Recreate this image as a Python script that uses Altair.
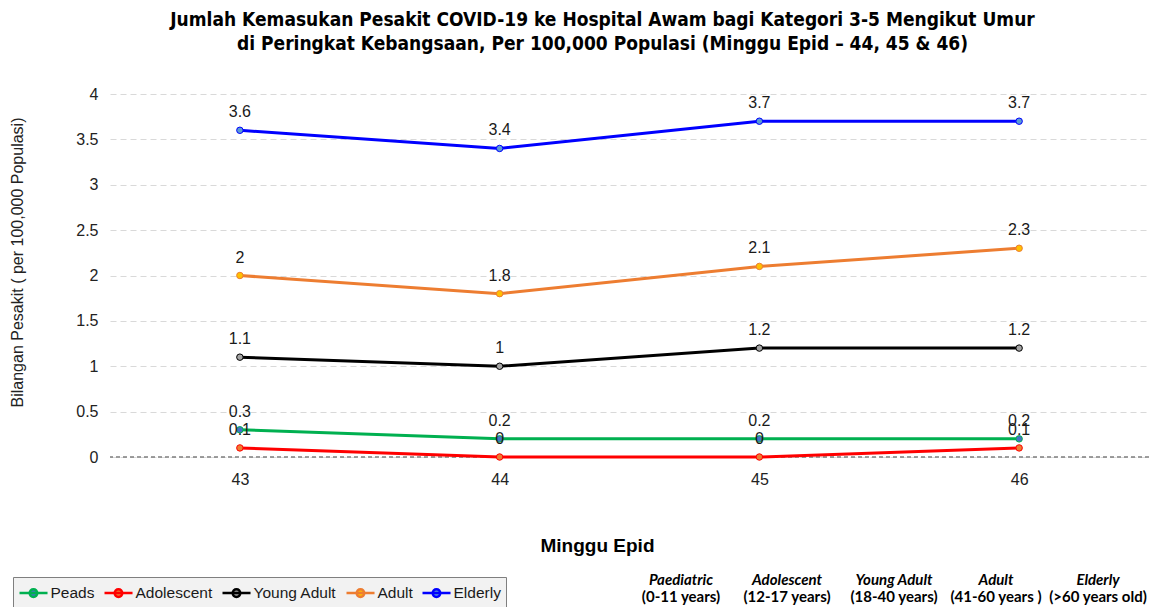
import altair as alt
import pandas as pd

# ---- data ----
weeks = [43, 44, 45, 46]
series = ["Peads", "Adolescent", "Young Adult", "Adult", "Elderly"]
peads = [0.3, 0.2, 0.2, 0.2]
adolescent = [0.1, 0, 0, 0.1]
young_adult = [1.1, 1.0, 1.2, 1.2]
adult = [2.0, 1.8, 2.1, 2.3]
elderly = [3.6, 3.4, 3.7, 3.7]
y_ticks = [0, 0.5, 1, 1.5, 2, 2.5, 3, 3.5, 4]

note_groups = ["Paediatric", "Adolescent", "Young Adult", "Adult", "Elderly"]
note_ranges = ["(0-11 years)", "(12-17 years)", "(18-40 years)", "(41-60 years )", "(>60 years old)"]

title_lines = [
    "Jumlah Kemasukan Pesakit COVID-19 ke Hospital Awam bagi Kategori 3-5 Mengikut Umur",
    "di Peringkat Kebangsaan, Per 100,000 Populasi (Minggu Epid \u2013 44, 45 & 46)",
]

# ---- styles ----
line_colors = ["#00b050", "#ff0000", "#000000", "#ed7d31", "#0000ff"]
marker_colors = ["#4472c4", "#ed7d31", "#a5a5a5", "#ffc000", "#5b9bd5"]
note_x = [571, 677, 784, 886, 988]
FONT = "Liberation Sans"
TITLE_FONT = "Liberation Sans Narrow, Arial Narrow, Noto Sans Condensed, DejaVu Sans Condensed, Liberation Sans"

values = [peads, adolescent, young_adult, adult, elderly]
rows = []
for s, vals in zip(series, values):
    for w, v in zip(weeks, vals):
        rows.append({"week": w, "series": s, "value": v, "label": f"{v:g}"})
df = pd.DataFrame(rows)

x_enc = alt.X(
    "week:O",
    scale=alt.Scale(type="point", padding=0.5),
    axis=alt.Axis(
        title="Minggu Epid",
        labelAngle=0,
        labelFontSize=16,
        labelColor="#222222",
        labelPadding=14,
        ticks=False,
        domain=False,
        grid=False,
        titleFontSize=19,
        titleFontWeight="bold",
        titleColor="#000000",
        titleX=487,
        titleY=94,
        titleAlign="center",
        titleBaseline="alphabetic",
    ),
)
y_enc = alt.Y(
    "value:Q",
    scale=alt.Scale(domain=[0, 4], nice=False),
    axis=alt.Axis(
        values=y_ticks,
        format="~g",
        title="Bilangan Pesakit ( per 100,000 Populasi)",
        labelFontSize=16,
        labelColor="#222222",
        labelPadding=12,
        ticks=False,
        domain=False,
        grid=True,
        gridColor="#d9d9d9",
        gridDash=[6, 4],
        gridWidth=1,
        titleFontSize=16,
        titleFontWeight="normal",
        titleColor="#222222",
        titleAngle=270,
        titleX=-93,
        titleY=168,
        titleAlign="center",
        titleBaseline="middle",
    ),
)

stroke_scale = alt.Scale(domain=series, range=line_colors)
fill_scale = alt.Scale(domain=series, range=marker_colors)

base = alt.Chart(df)

zero_rule = alt.Chart(pd.DataFrame({"v": [0]})).mark_rule(
    color="#7f7f7f", strokeDash=[4, 3], strokeWidth=1.5
).encode(y=alt.Y("v:Q", scale=alt.Scale(domain=[0, 4], nice=False)))

lines = base.mark_line(strokeWidth=3).encode(
    x=x_enc,
    y=y_enc,
    stroke=alt.Stroke("series:N", scale=stroke_scale, legend=alt.Legend(title=None)),
    detail="series:N",
)

points = base.mark_point(filled=False, size=42, strokeWidth=1, opacity=1).encode(
    x=x_enc,
    y=y_enc,
    stroke=alt.Stroke("series:N", scale=stroke_scale, legend=alt.Legend(title=None)),
    fill=alt.Fill("series:N", scale=fill_scale, legend=alt.Legend(title=None)),
    shape=alt.value("circle"),
)

labels = base.mark_text(dy=-18, fontSize=16, font=FONT, color="#1a1a1a").encode(
    x=x_enc, y=y_enc, text="label:N"
)

note_layers = []
for g, r, nx in zip(note_groups, note_ranges, note_x):
    note_layers.append(
        alt.Chart(pd.DataFrame({"t": [g]})).mark_text(
            font="Lato", fontSize=15, fontWeight="bold", fontStyle="italic",
            color="#000000", align="center", baseline="middle"
        ).encode(text="t:N", x=alt.value(nx), y=alt.value(486))
    )
    note_layers.append(
        alt.Chart(pd.DataFrame({"t": [r]})).mark_text(
            font="Lato", fontSize=15, fontWeight="bold",
            color="#000000", align="center", baseline="middle"
        ).encode(text="t:N", x=alt.value(nx), y=alt.value(503))
    )

chart = alt.layer(zero_rule, lines, points, labels, *note_layers).properties(
    width=1039,
    height=363,
    autosize=alt.AutoSizeParams(type="none"),
    padding={"left": 102, "top": 86, "right": 0, "bottom": 150},
    title=alt.TitleParams(
        text=title_lines,
        font=TITLE_FONT,
        fontSize=19,
        fontWeight="bold",
        color="#000000",
        anchor="middle",
        dx=-27,
        offset=32,
        lineHeight=24,
    ),
).configure_view(stroke="transparent").configure_axis(
    labelFont=FONT, titleFont=FONT
).configure_legend(
    orient="none",
    legendX=-97,
    legendY=483,
    direction="horizontal",
    fillColor="#f2f2f2",
    strokeColor="#7f7f7f",
    padding=5,
    symbolType="M-1,0L1.95,0M0.07,0A0.4,0.4,0,1,0,0.87,0A0.4,0.4,0,1,0,0.07,0Z",
    symbolSize=361,
    symbolStrokeWidth=2.5,
    labelFont=FONT,
    labelFontSize=15.5,
    labelColor="#1a1a1a",
    labelOffset=10.5,
    columnPadding=4,
)

chart.save("out.html", embed_options={"renderer": "svg", "actions": False})
